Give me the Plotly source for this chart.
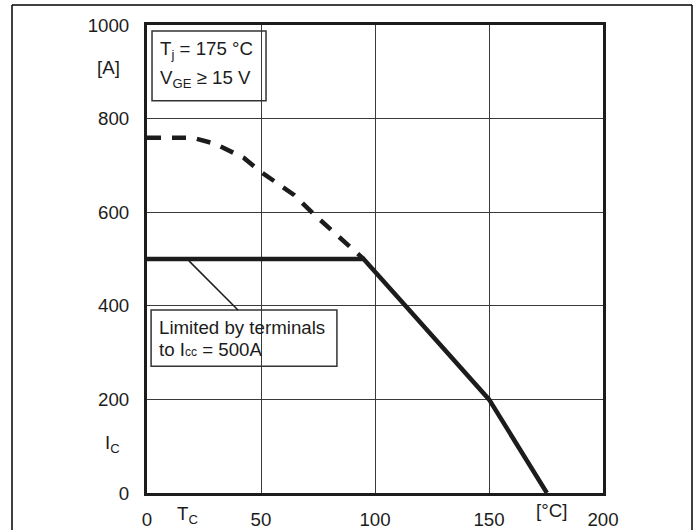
import plotly.graph_objects as go

# ---- data ----
tc_dashed = [0, 20, 30, 42.5, 50, 64.5, 74, 84.6, 95]
ic_dashed = [759, 759, 746, 716, 686, 637, 592, 545, 500]

tc_solid = [0, 95, 111, 150, 175.4]
ic_solid = [500, 500, 413, 200, 0]

x_ticks = [0, 50, 100, 150, 200]
y_ticks = [0, 200, 400, 600, 800, 1000]

FONT = "Liberation Sans, Arial, sans-serif"
INK = "#1c1c1c"
FS = 18.7

fig = go.Figure()
fig.add_trace(go.Scatter(x=tc_dashed, y=ic_dashed, mode="lines",
                         line=dict(color=INK, width=4.5, dash="14px,11px"),
                         hoverinfo="skip", showlegend=False))
fig.add_trace(go.Scatter(x=tc_solid, y=ic_solid, mode="lines",
                         line=dict(color=INK, width=4.5),
                         hoverinfo="skip", showlegend=False))

L, R, T, B = 147, 94, 25, 37
W, H = 697, 530
pw, ph = W - L - R, H - T - B

def px(xp):
    return (xp - L) / pw

def py(yp):
    return (H - B - yp) / ph

shapes = [
    # outer frame
    dict(type="line", xref="paper", yref="paper", x0=px(12), x1=px(692), y0=py(5), y1=py(5),
         line=dict(color="black", width=1.5)),
    dict(type="line", xref="paper", yref="paper", x0=px(12), x1=px(12), y0=py(5), y1=py(535),
         line=dict(color="black", width=1.5)),
    dict(type="line", xref="paper", yref="paper", x0=px(692), x1=px(692), y0=py(5), y1=py(535),
         line=dict(color="black", width=1.5)),
    # condition box
    dict(type="rect", xref="x", yref="y", x0=2.2, x1=52.2, y0=838, y1=987,
         line=dict(color="#333", width=1.5)),
    # terminal limit box
    dict(type="rect", xref="x", yref="y", x0=1.8, x1=83.3, y0=271, y1=391,
         line=dict(color="#333", width=1.5)),
    # leader line
    dict(type="line", xref="x", yref="y", x0=18.4, y0=496, x1=39.9, y1=391,
         line=dict(color=INK, width=1.5)),
]

ann = []
def text(x, y, s, xanchor="left", size=FS, xref="x", yref="y"):
    ann.append(dict(x=x, y=y, xref=xref, yref=yref, text=s, showarrow=False,
                    xanchor=xanchor, yanchor="middle",
                    font=dict(family=FONT, size=size, color=INK)))

text(4.8, 946, "T<sub>j</sub> = 175 °C")
text(4.8, 884, "V<sub>GE</sub> ≥ 15 V")
text(4.5, 354, "Limited by terminals")
text(4.5, 307, "to I<span style='font-size:12px'>cc</span> = 500A")

# axis labels
text(px(95), py(67), "[A]", xref="paper", yref="paper")
text(px(103), py(444), "I<sub>C</sub>", xref="paper", yref="paper")
text(px(175), py(515), "T<sub>C</sub>", xref="paper", yref="paper")
text(px(534), py(510), "[°C]", xref="paper", yref="paper")

fig.update_layout(
    width=W, height=H,
    margin=dict(l=L, r=R, t=T, b=B, autoexpand=False),
    paper_bgcolor="white", plot_bgcolor="white",
    font=dict(family=FONT, size=FS, color=INK),
    shapes=shapes, annotations=ann,
    xaxis=dict(range=[0, 200], tickvals=x_ticks, ticktext=[str(v) for v in x_ticks],
               showgrid=True, gridcolor="#3a3a3a", gridwidth=1,
               showline=True, linecolor=INK, linewidth=3, mirror=True,
               ticks="", ticklabelstandoff=8, zeroline=False, fixedrange=True,
               automargin=False),
    yaxis=dict(range=[0, 1000], tickvals=y_ticks, ticktext=[str(v) for v in y_ticks],
               showgrid=True, gridcolor="#3a3a3a", gridwidth=1,
               showline=True, linecolor=INK, linewidth=3, mirror=True,
               ticks="", ticklabelstandoff=11, zeroline=False, fixedrange=True,
               automargin=False),
)

fig.write_html("out.html", config={"displayModeBar": False},
               post_script="document.body.style.margin='0';document.body.style.overflow='hidden';")
